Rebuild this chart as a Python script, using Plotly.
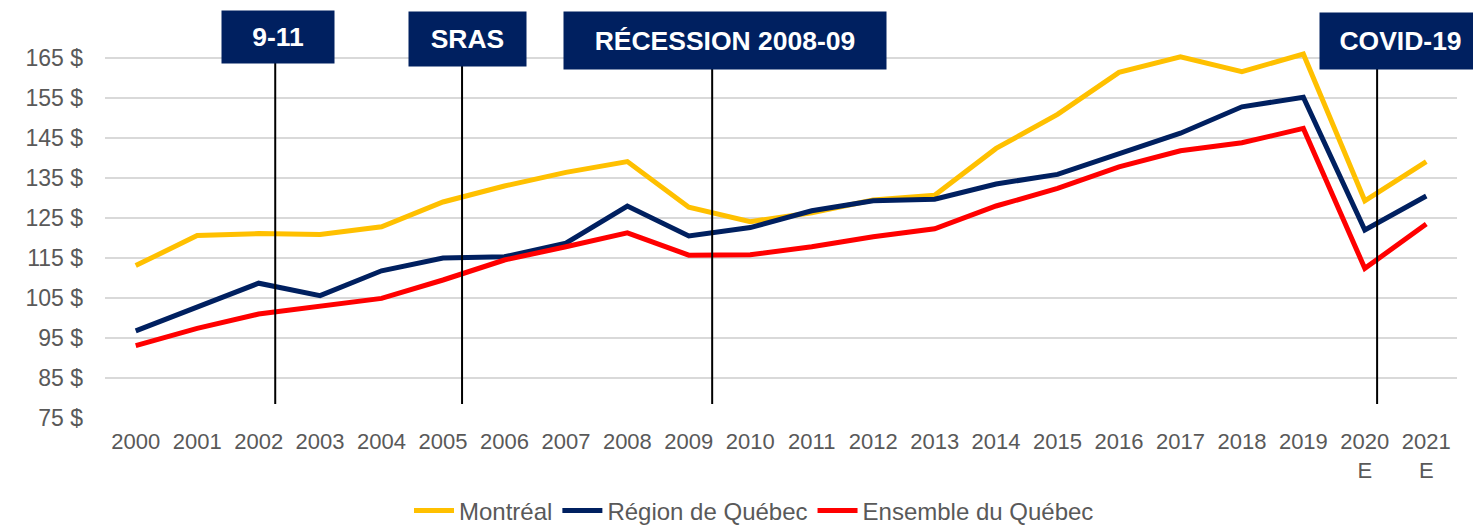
import plotly.graph_objects as go

# ---- data ----
years = list(range(2000, 2022))
year_labels = [str(y) for y in range(2000, 2020)] + ["2020<br>E", "2021<br>E"]

montreal = [113.1, 120.6, 121.1, 120.9, 122.8, 129.0, 133.0, 136.4, 139.1, 127.7,
            124.1, 126.3, 129.5, 130.7, 142.4, 150.9, 161.4, 165.3, 161.6, 166.0,
            129.3, 139.1]
region_quebec = [96.8, 102.7, 108.7, 105.6, 111.8, 115.0, 115.3, 118.7, 128.0, 120.5,
                 122.6, 126.8, 129.3, 129.7, 133.5, 135.9, 141.2, 146.2, 152.8, 155.2,
                 122.0, 130.5]
ensemble_quebec = [93.1, 97.4, 101.0, 103.0, 104.9, 109.5, 114.5, 117.8, 121.3, 115.7,
                   115.8, 117.8, 120.3, 122.3, 128.0, 132.4, 137.8, 141.8, 143.8, 147.4,
                   112.4, 123.5]

series_names = ["Montréal", "Région de Québec", "Ensemble du Québec"]
series_values = [montreal, region_quebec, ensemble_quebec]
series_colors = ["#FFC000", "#002060", "#FF0000"]

y_ticks = list(range(75, 166, 10))
y_tick_labels = [f"{v} $" for v in y_ticks]

event_names = ["9-11", "SRAS", "RÉCESSION 2008-09", "COVID-19"]
event_x = [2002.27, 2005.31, 2009.38, 2020.2]

# ---- layout geometry (screen pixels; page body has an 8px margin) ----
OFF = 8
SW, SH = 1481, 528
W, H = SW - OFF, SH - OFF
Y_MIN, Y_MAX = 75, 167
PX_PER_UNIT = 4.0
PL, PR, PB = 105, 1457, 418                  # plot area on screen
PT = PB - (Y_MAX - Y_MIN) * PX_PER_UNIT      # top of plot area on screen


def px_x(p):
    return (p - PL) / (PR - PL)


def px_y(p):
    return (PB - p) / (PB - PT)


def px_to_val(p):
    return Y_MIN + (PB - p) / PX_PER_UNIT


# box geometry on screen: (left, right, top, bottom)
event_boxes = [(222, 334, 11, 63), (409, 526, 12, 66), (564, 886, 12, 69), (1320, 1481, 13, 69)]
line_bottom_val = 78.5

fig = go.Figure()
for name, vals, col in zip(series_names, series_values, series_colors):
    fig.add_trace(go.Scatter(x=years, y=vals, name=name, mode="lines",
                             line=dict(color=col, width=5)))

shapes = []
annotations = []
for name, ex, (bl, br, bt, bb) in zip(event_names, event_x, event_boxes):
    shapes.append(dict(type="line", xref="x", yref="y", x0=ex, x1=ex,
                       y0=line_bottom_val, y1=px_to_val(bb),
                       line=dict(color="black", width=2), layer="above"))
    annotations.append(dict(
        xref="paper", yref="paper",
        x=px_x((bl + br) / 2), y=px_y((bt + bb) / 2),
        xanchor="center", yanchor="middle",
        text=f"<b>{name}</b>", showarrow=False,
        width=br - bl, height=bb - bt, bgcolor="#002060", borderpad=0,
        font=dict(family="Liberation Sans, Arial", size=26.5, color="white"),
    ))

fig.update_layout(
    width=W, height=H,
    margin=dict(l=PL - OFF, r=SW - PR, t=PT - OFF, b=SH - PB, autoexpand=False),
    paper_bgcolor="white", plot_bgcolor="white",
    font=dict(family="Liberation Sans, Arial", color="#595959"),
    shapes=shapes, annotations=annotations,
    showlegend=True,
    legend=dict(orientation="h", x=px_x(409), xanchor="left",
                y=px_y(511), yanchor="middle",
                font=dict(size=24, color="#595959"),
                itemwidth=40, tracegroupgap=0, bgcolor="rgba(0,0,0,0)"),
)
fig.update_xaxes(range=[1999.5, 2021.5], tickvals=years, ticktext=year_labels,
                 showgrid=False, zeroline=False, showline=False,
                 tickfont=dict(size=22, color="#595959"), ticks="", fixedrange=True,
                 ticklabelstandoff=8)
fig.update_yaxes(range=[Y_MIN, Y_MAX], tickvals=y_ticks, ticktext=y_tick_labels,
                 showgrid=True, gridcolor="#d9d9d9", gridwidth=1.5,
                 zeroline=False, showline=False, ticks="",
                 tickfont=dict(size=23, color="#595959"), ticklabelstandoff=21)

fig.write_html("out.html")
